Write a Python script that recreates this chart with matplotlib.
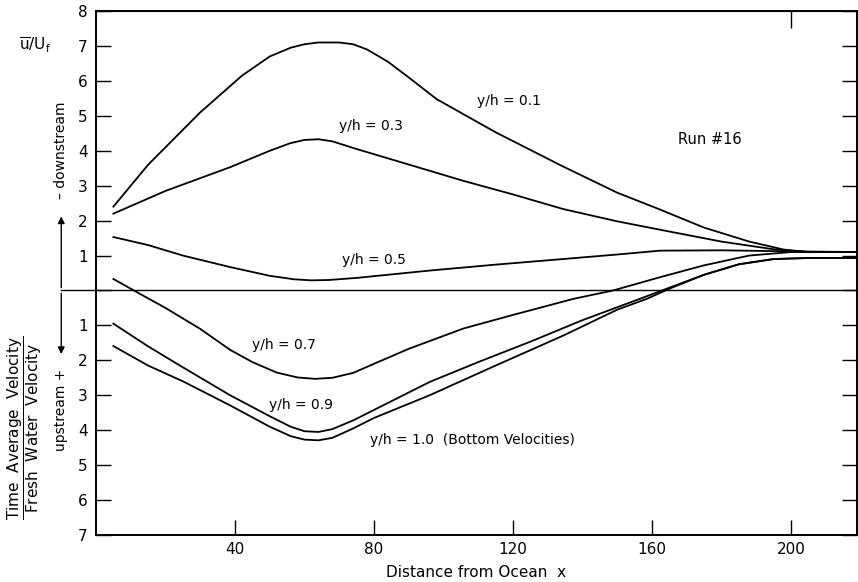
import numpy as np
import matplotlib.pyplot as plt

# velocity profiles (x = distance from ocean, u/Uf, downstream positive)
x01 = [5, 15, 30, 42, 50, 56, 60, 64, 70, 74, 78, 84, 90, 98, 115, 134, 150, 162, 175, 188, 198, 205, 220]
u01 = [2.4, 3.6, 5.1, 6.15, 6.7, 6.95, 7.05, 7.1, 7.1, 7.05, 6.9, 6.55, 6.1, 5.48, 4.53, 3.57, 2.8, 2.33, 1.8, 1.4, 1.17, 1.1, 1.1]

x03 = [5, 20, 38.6, 50, 56, 60, 64, 68, 75, 86.5, 105.7, 120, 134.5, 150, 162.3, 180, 195, 205, 220]
u03 = [2.2, 2.85, 3.53, 4.0, 4.22, 4.31, 4.33, 4.27, 4.05, 3.71, 3.14, 2.75, 2.33, 1.98, 1.74, 1.4, 1.18, 1.1, 1.1]

x05 = [5, 15, 25, 38.6, 50, 57, 62, 67, 75, 96, 115, 134.4, 150, 162.3, 180, 200, 220]
u05 = [1.53, 1.3, 1.0, 0.67, 0.42, 0.32, 0.29, 0.3, 0.36, 0.57, 0.74, 0.9, 1.03, 1.14, 1.15, 1.12, 1.1]

x07 = [5, 12.7, 20, 30, 38.6, 45, 52, 58, 63, 68, 74, 80, 90, 105.7, 120, 137.4, 148.8, 162.3, 175, 188, 200, 220]
u07 = [0.33, -0.1, -0.5, -1.1, -1.7, -2.05, -2.35, -2.49, -2.53, -2.5, -2.36, -2.1, -1.67, -1.09, -0.7, -0.24, 0.0, 0.38, 0.72, 1.0, 1.1, 1.1]

x09 = [5, 15, 25, 38.6, 50, 56, 60, 64, 68, 74, 80, 96, 110, 124.9, 140, 156.5, 165, 175, 185, 195, 205, 220]
u09 = [-0.95, -1.6, -2.2, -3.0, -3.6, -3.9, -4.03, -4.05, -3.97, -3.72, -3.42, -2.62, -2.05, -1.47, -0.85, -0.24, 0.08, 0.45, 0.75, 0.9, 0.93, 0.93]

x10 = [5, 15, 25, 38.6, 50, 56, 60, 64, 68, 74, 80, 96, 115, 134.5, 150, 158.5, 165, 175, 185, 195, 205, 220]
u10 = [-1.59, -2.15, -2.6, -3.29, -3.9, -4.17, -4.27, -4.29, -4.22, -3.95, -3.65, -3.0, -2.15, -1.29, -0.55, -0.24, 0.05, 0.45, 0.75, 0.9, 0.93, 0.93]

yticks = list(range(-7, 9))
ylabels = ['' if t == 0 else str(abs(t)) for t in yticks]
xticks = [40, 80, 120, 160, 200]

plt.rcParams['font.family'] = ['DejaVu Sans']
fig = plt.figure(figsize=(8.58, 5.82), dpi=100)
ax = fig.add_axes([0.1119, 0.0808, 0.8869, 0.9002])

for xs, us in [(x01, u01), (x03, u03), (x05, u05), (x07, u07), (x09, u09), (x10, u10)]:
    ax.plot(xs, us, color='black', lw=1.3, solid_joinstyle='round')

ax.set_xlim(0, 219)
ax.set_ylim(-7, 8)
ax.set_xticks(xticks)
ax.set_yticks(yticks)
ax.set_yticklabels(ylabels)
ax.tick_params(axis='both', direction='in', length=11, width=1.0, labelsize=11, colors='black')
ax.tick_params(axis='y', right=True, pad=6)
ax.tick_params(axis='x', pad=5)
for s in ax.spines.values():
    s.set_linewidth(1.4)

top = ax.secondary_xaxis('top')
top.set_xticks([200])
top.set_xticklabels([])
top.tick_params(direction='in', length=12, width=1.0)

ax.set_xlabel('Distance from Ocean  x', fontsize=11, labelpad=6)

# zero line extended to the left with the direction arrows
ax.plot([-10, 219], [0, 0], color='black', lw=1.0, clip_on=False)
ax.annotate('', xy=(-10, 2.2), xytext=(-10, 0), xycoords='data',
            arrowprops=dict(arrowstyle='-|>', color='black', lw=1.0, mutation_scale=10),
            annotation_clip=False)
ax.annotate('', xy=(-10, -1.9), xytext=(-10, 0), xycoords='data',
            arrowprops=dict(arrowstyle='-|>', color='black', lw=1.0, mutation_scale=10),
            annotation_clip=False)

# curve labels
ax.text(119, 5.42, 'y/h = 0.1', fontsize=10, ha='center', va='center')
ax.text(79, 4.71, 'y/h = 0.3', fontsize=10, ha='center', va='center')
ax.text(80, 0.86, 'y/h = 0.5', fontsize=10, ha='center', va='center')
ax.text(54, -1.57, 'y/h = 0.7', fontsize=10, ha='center', va='center')
ax.text(59, -3.29, 'y/h = 0.9', fontsize=10, ha='center', va='center')
ax.text(78.8, -4.29, 'y/h = 1.0  (Bottom Velocities)', fontsize=10, ha='left', va='center')
ax.text(176.7, 4.33, 'Run #16', fontsize=10.5, ha='center', va='center')

# left-hand labels
fig.text(35 / 858, 1 - 45 / 582, r'$\mathrm{\overline{u}/U_f}$', fontsize=11, ha='center', va='center')
fig.text(61 / 858, 1 - 150 / 582, '\u2013 downstream', fontsize=10, rotation=90, ha='center', va='center')
fig.text(61 / 858, 1 - 410 / 582, 'upstream +', fontsize=10, rotation=90, ha='center', va='center')
fig.text(25 / 858, 1 - 428 / 582,
         r'$\dfrac{\mathrm{Time\ \ Average\ \ Velocity}}{\mathrm{Fresh\ \ Water\ \ Velocity}}$',
         fontsize=11, rotation=90, ha='center', va='center')

fig.savefig('out.png', dpi=100)
